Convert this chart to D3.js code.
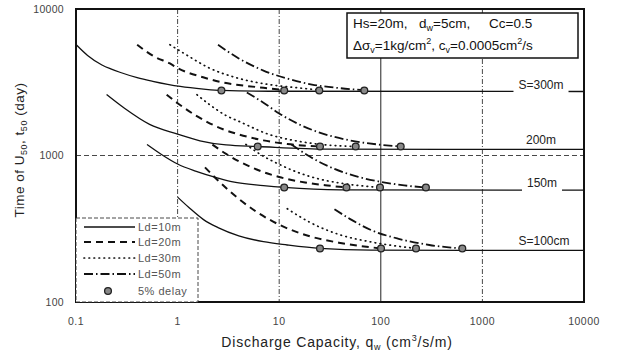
<!DOCTYPE html>
<html><head><meta charset="utf-8">
<script src="https://cdn.jsdelivr.net/npm/d3@7"></script>
<style>
body{margin:0;background:#fff}
svg{display:block}
text{font-family:"Liberation Sans",Arial,sans-serif}
</style>
</head><body>
<svg id="chart" width="617" height="353"></svg>
<script>
// Axis ticks
const qTicks = [0.1, 1, 10, 100, 1000, 10000];
const qTickLabels = ["0.1", "1", "10", "100", "1000", "10000"];
const tTicks = [100, 1000, 10000];
const tTickLabels = ["100", "1000", "10000"];

// Drain spacing groups (top to bottom) and their final consolidation time (day)
const spacingLabels = ["S=300m", "200m", "150m", "S=100cm"];
const plateauT = [2735, 1100, 580, 225];

// Drain lengths
const lengthLabels = ["Ld=10m", "Ld=20m", "Ld=30m", "Ld=50m"];

// 5% delay points: discharge capacity per group / length, and time per group
const delayQ = [
  [2.7, 11.2, 24.8, 68.8],
  [6.14, 25.2, 56.6, 157],
  [11.2, 45.9, 98.2, 278],
  [25.2, 100.5, 222, 634]
];
const delayT = [2780, 1152, 605, 232];

// Curves [q (cm3/s/m), t50 (day)] for Ld = 10, 20, 30, 50 m
const curvesS300 = [
  [[0.1,5720],[0.13,4820],[0.18,4150],[0.22,3900],[0.27,3700],[0.4,3400],[0.57,3210],[1.06,2960],[1.8,2840],[2.7,2780],[8,2745],[10000,2735]],
  [[0.4,5700],[0.6,4700],[0.84,4250],[1.0,3950],[1.78,3420],[2.8,3150],[4,3030],[7,2900],[11.2,2800]],
  [[0.84,5700],[1.2,4900],[2,3990],[4,3360],[8,3050],[15,2900],[24.8,2800]],
  [[2.5,5700],[4,4600],[7,3800],[12,3350],[21,3050],[40,2880],[68.8,2790]]
];
const curvesS200 = [
  [[0.2,2606],[0.3,2100],[0.53,1630],[1,1400],[1.66,1260],[3,1180],[6.14,1152],[30,1105],[10000,1100]],
  [[0.78,2600],[1,2274],[1.5,1882],[2.8,1510],[4,1393],[7,1268],[12,1198],[25.2,1152]],
  [[1.55,2600],[2,2261],[3,1874],[4.1,1700],[8,1390],[14,1266],[25,1193],[56.6,1152]],
  [[4.8,2690],[7,2294],[10,1936],[15,1657],[25,1434],[50,1267],[90,1193],[157,1152]]
];
const curvesS150 = [
  [[0.5,1190],[0.7,1013],[1,875],[1.5,782],[2.5,701],[3.5,660],[7,623],[11.2,605],[40,582],[10000,580]],
  [[2.2,1187],[3,1025],[4,914],[6,802],[10,713],[18,654],[30,624],[45.9,605]],
  [[4.7,1190],[6.5,1019],[10,870],[15,770],[25,690],[45,640],[98.2,605]],
  [[13.2,1190],[20,983],[35,810],[60,715],[100,661],[170,625],[278,605]]
];
const curvesS100 = [
  [[1,520],[1.3,440],[1.8,365],[2.5,322],[4,283],[7,258],[12,245],[25.2,232],[80,226],[10000,225]],
  [[1.86,830],[2.5,675],[4,506],[6,412],[10,337],[20,281],[40,253],[100.5,232]],
  [[12,433],[20,350],[40,287],[80,257],[222,232]],
  [[35,430],[50,368],[80,310],[150,270],[300,245],[634,232]]
];
const curveGroups = [curvesS300, curvesS200, curvesS150, curvesS100];

const svg = d3.select("#chart");
const plotL = 76, plotR = 584, plotT = 9, plotB = 302;

const x = d3.scaleLog().domain([0.1, 10000]).range([plotL, plotR]);
const y = d3.scaleLog().domain([100, 10000]).range([plotB, plotT]);

// Line style per drain length
const styles = [
  {dash: null, w: 1.3},
  {dash: "7,5", w: 2},
  {dash: "0.6,4.4", w: 1.7, cap: "round"},
  {dash: "9,3,1.5,3", w: 1.8}
];
function applyStyle(sel, i) {
  const s = styles[i];
  sel.attr("fill", "none").attr("stroke", "#111").attr("stroke-width", s.w)
     .attr("stroke-dasharray", s.dash).attr("stroke-linecap", s.cap || "butt");
}

// Grid lines
const gx = svg.append("g");
[1, 10, 1000].forEach(v => {
  gx.append("line").attr("x1", x(v)).attr("x2", x(v)).attr("y1", plotT).attr("y2", plotB)
    .attr("stroke", "#333").attr("stroke-width", 0.9).attr("stroke-dasharray", "5,2,1,2");
});
gx.append("line").attr("x1", x(100)).attr("x2", x(100)).attr("y1", plotT).attr("y2", plotB)
  .attr("stroke", "#222").attr("stroke-width", 1);
gx.append("line").attr("x1", plotL).attr("x2", plotR).attr("y1", y(1000)).attr("y2", y(1000))
  .attr("stroke", "#333").attr("stroke-width", 0.9).attr("stroke-dasharray", "5,3");

// Curves
const line = d3.line().x(d => x(d[0])).y(d => y(d[1])).curve(d3.curveMonotoneX);
const gc = svg.append("g");
curveGroups.forEach(group => {
  group.forEach((pts, i) => {
    gc.append("path").attr("d", line(pts)).call(applyStyle, i);
  });
});

// 5% delay markers
const gd = svg.append("g");
delayQ.forEach((qs, gi) => {
  qs.forEach(q => {
    gd.append("circle").attr("cx", x(q)).attr("cy", y(delayT[gi])).attr("r", 3.4)
      .attr("fill", "#888").attr("stroke", "#222").attr("stroke-width", 1.3);
  });
});

// Spacing labels on the right
const labelPos = [
  {cx: 541, ty: 89, bg: true},
  {cx: 541, ty: 144, bg: false},
  {cx: 542, ty: 187, bg: true},
  {cx: 544, ty: 245, bg: false}
];
spacingLabels.forEach((lab, i) => {
  const p = labelPos[i];
  const t = svg.append("text").attr("x", p.cx).attr("y", p.ty).attr("text-anchor", "middle")
    .attr("font-size", 12).attr("fill", "#222").text(lab);
  if (p.bg) {
    const b = t.node().getBBox();
    svg.insert("rect", "text").attr("x", b.x - 5).attr("y", b.y).attr("width", b.width + 10)
      .attr("height", b.height + 3).attr("fill", "#fff");
  }
});

// Frame
svg.append("rect").attr("x", plotL).attr("y", plotT).attr("width", plotR - plotL).attr("height", plotB - plotT)
  .attr("fill", "none").attr("stroke", "#111").attr("stroke-width", 2);

// Axis tick labels
qTicks.forEach((v, i) => {
  svg.append("text").attr("x", x(v)).attr("y", 325).attr("text-anchor", "middle")
    .attr("font-size", 10.5).attr("letter-spacing", 0.5).attr("fill", "#444").text(qTickLabels[i]);
});
tTicks.forEach((v, i) => {
  svg.append("text").attr("x", 64).attr("y", y(v) + 3.5).attr("text-anchor", "end")
    .attr("font-size", 10.5).attr("letter-spacing", 0.3).attr("fill", "#444").text(tTickLabels[i]);
});

// Axis titles
const xt = svg.append("text").attr("x", 337).attr("y", 347).attr("text-anchor", "middle")
  .attr("font-size", 14).attr("letter-spacing", 0.8).attr("fill", "#222");
xt.append("tspan").text("Discharge Capacity, q");
xt.append("tspan").attr("font-size", 9).attr("dy", 3).text("w");
xt.append("tspan").attr("dy", -3).text("  (cm");
xt.append("tspan").attr("font-size", 9).attr("dy", -6).text("3");
xt.append("tspan").attr("dy", 6).text("/s/m)");

const yt = svg.append("text").attr("transform", "translate(24,150) rotate(-90)")
  .attr("text-anchor", "middle").attr("font-size", 13.5).attr("letter-spacing", 0.5).attr("fill", "#222");
yt.append("tspan").text("Time of U");
yt.append("tspan").attr("font-size", 9).attr("dy", 3).text("50");
yt.append("tspan").attr("dy", -3).text(", t");
yt.append("tspan").attr("font-size", 9).attr("dy", 3).text("50");
yt.append("tspan").attr("dy", -3).text("  (day)");

// Parameter box
svg.append("rect").attr("x", 347).attr("y", 13).attr("width", 231).attr("height", 45)
  .attr("fill", "#fff").attr("stroke", "#111").attr("stroke-width", 1.5);
const p1 = svg.append("text").attr("y", 28).attr("font-size", 13.5).attr("fill", "#111");
p1.append("tspan").attr("x", 353).text("Hs=20m,");
p1.append("tspan").attr("x", 419).text("d");
p1.append("tspan").attr("font-size", 9).attr("dy", 3).text("w");
p1.append("tspan").attr("dy", -3).text("=5cm,");
p1.append("tspan").attr("x", 489).text("Cc=0.5");
const p2 = svg.append("text").attr("x", 353).attr("y", 50).attr("font-size", 13.5).attr("fill", "#111");
p2.append("tspan").text("\u0394\u03c3");
p2.append("tspan").attr("font-size", 9).attr("dy", 3).text("v");
p2.append("tspan").attr("dy", -3).text("=1kg/cm");
p2.append("tspan").attr("font-size", 9).attr("dy", -6).text("2");
p2.append("tspan").attr("dy", 6).text(", c");
p2.append("tspan").attr("font-size", 9).attr("dy", 3).text("v");
p2.append("tspan").attr("dy", -3).text("=0.0005cm");
p2.append("tspan").attr("font-size", 9).attr("dy", -6).text("2");
p2.append("tspan").attr("dy", 6).text("/s");

// Legend
const lg = svg.append("g");
lg.append("rect").attr("x", plotL).attr("y", 218).attr("width", 122).attr("height", plotB - 218)
  .attr("fill", "#fff").attr("stroke", "#333").attr("stroke-width", 0.9).attr("stroke-dasharray", "4,2");
const rowY = [227, 242, 258, 274, 291];
lengthLabels.forEach((lab, i) => {
  lg.append("line").attr("x1", 84).attr("x2", 135).attr("y1", rowY[i]).attr("y2", rowY[i]).call(applyStyle, i);
  lg.append("text").attr("x", 138).attr("y", rowY[i] + 4).attr("font-size", 11).attr("letter-spacing", 0.5)
    .attr("fill", "#555").text(lab);
});
lg.append("circle").attr("cx", 108).attr("cy", rowY[4]).attr("r", 3.4)
  .attr("fill", "#888").attr("stroke", "#222").attr("stroke-width", 1.3);
lg.append("text").attr("x", 138).attr("y", rowY[4] + 4).attr("font-size", 11).attr("letter-spacing", 0.5)
  .attr("fill", "#555").text("5% delay");
</script>
</body></html>
